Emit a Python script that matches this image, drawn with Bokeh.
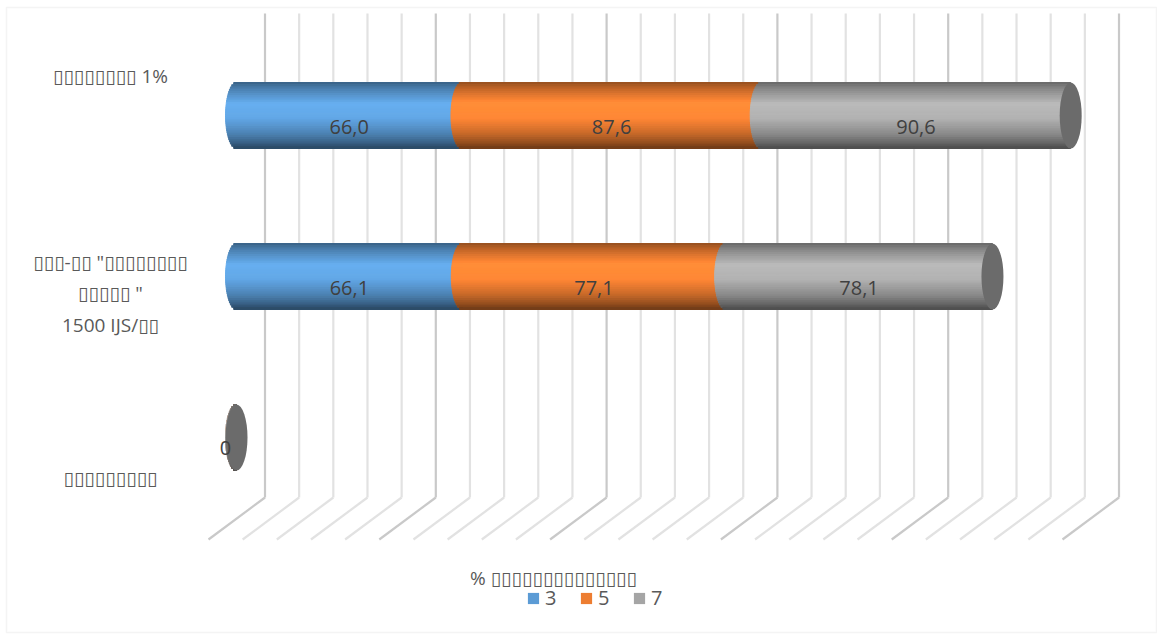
import numpy as np
from bokeh.plotting import figure
from bokeh.models import Range1d, Label, BoxAnnotation, Legend, LegendItem
from bokeh.core.properties import value
from bokeh.embed import file_html
from bokeh.resources import INLINE

# ---------------- data ----------------
categories = [
    "▯▯▯▯▯▯▯▯ 1%",
    "▯▯▯-▯▯ \"▯▯▯▯▯▯▯▯\n▯▯▯▯▯ \"\n1500 IJS/▯▯",
    "▯▯▯▯▯▯▯▯▯",
]
series_names = ["3", "5", "7"]
s3 = [66.0, 66.1, 0.0]
s5 = [87.6, 77.1, 0.0]
s7 = [90.6, 78.1, 0.0]
series_colors = ["#5b9bd5", "#ed7d31", "#a5a5a5"]
axis_title = "% ▯▯▯▯▯▯▯▯▯▯▯▯▯▯"
grid_values = list(range(0, 251, 10))

# ---------------- layout (pixels) ----------------
W, H = 1157, 634
X0 = 236.0          # canvas x of value 0 (bar axis)
PX = 3.416          # px per unit
Y0 = 115.0          # canvas y of first category
DY = 161.0          # px between categories
BAR_H = 66.0        # bar thickness, px
CAP_A = 11.0        # half width of ellipse cap, px
FONT = "Open Sans, DejaVu Sans"

p = figure(width=W, height=H, output_backend="svg", toolbar_location=None,
           x_range=Range1d(-X0 / PX, (W - X0) / PX),
           y_range=Range1d((H - Y0) / DY, -Y0 / DY),
           x_axis_location=None, y_axis_location=None,
           min_border=0, background_fill_color="white", border_fill_color="white")
p.outline_line_color = None
p.grid.visible = False

ux = 1.0 / PX   # data units per px horizontally
uy = 1.0 / DY   # data units per px vertically

# ---------------- 3D walls / gridlines ----------------
back_dx, front_dx = 28.5, -28.0
top_y, wall_bottom_y, floor_front_y = 13.0, 497.0, 539.0
gx = np.array(grid_values, dtype=float)
major = [v % 50 == 0 for v in grid_values]
gcol = ["#c9c9c9" if m else "#e2e2e2" for m in major]
ys_top = (top_y - Y0) * uy
ys_bot = (wall_bottom_y - Y0) * uy
ys_front = (floor_front_y - Y0) * uy
p.segment(x0=gx + back_dx * ux, y0=[ys_top] * len(gx), x1=gx + back_dx * ux, y1=[ys_bot] * len(gx),
          line_color=gcol, line_width=2.2)
p.segment(x0=gx + back_dx * ux, y0=[ys_bot] * len(gx), x1=gx + front_dx * ux, y1=[ys_front] * len(gx),
          line_color=gcol, line_width=2.2)

# ---------------- cylinders ----------------
def shade(hex_color, f):
    h = hex_color.lstrip("#")
    r, g, b = (int(h[i:i + 2], 16) for i in (0, 2, 4))
    r, g, b = (max(0, min(255, int(round(c * f)))) for c in (r, g, b))
    return "#%02x%02x%02x" % (r, g, b)

stops_t = [-1.0, -0.8, -0.35, 0.1, 0.55, 0.85, 1.0]
stops_f = [0.62, 0.82, 1.13, 1.08, 0.85, 0.62, 0.45]

N = 30
series = [s3, s5, s7]
ncat = len(categories)
bar_h = BAR_H * uy
for ci in range(ncat):
    left = 0.0
    for si, vals in enumerate(series):
        v = vals[ci]
        right = left + v
        ts = (np.arange(N) + 0.5) / N * 2 - 1
        ys = ci + ts * bar_h / 2
        lefts = left - CAP_A * ux * np.sqrt(np.clip(1 - ts ** 2, 0, 1))
        cols = [shade(series_colors[si], float(np.interp(t, stops_t, stops_f))) for t in ts]
        p.hbar(y=ys, left=lefts, right=[right] * N, height=bar_h / N,
               fill_color=cols, line_color=cols, line_width=1.0)
        left = right
    # end cap
    p.ellipse(x=[left], y=[ci], width=2 * CAP_A * ux, height=bar_h,
              fill_color="#6b6b6b", line_color=None)

# ---------------- data labels ----------------
lx, ly, lt = [], [], []
for ci in range(ncat):
    left = 0.0
    total = sum(vals[ci] for vals in series)
    if total == 0:
        lx.append(-11 * ux); ly.append(ci + 10 * uy); lt.append("0")
        continue
    for vals in series:
        v = vals[ci]
        lx.append(left + v / 2); ly.append(ci + 11 * uy)
        lt.append(("%.1f" % v).replace(".", ","))
        left += v
p.text(x=lx, y=ly, text=lt, text_align="center", text_baseline="middle",
       text_font=value(FONT), text_font_size="20px", text_color="#404040")

# ---------------- category labels ----------------
cat_dy = [-40, 17, 40]
p.text(x=[-126 * ux] * ncat, y=[ci + cat_dy[ci] * uy for ci in range(ncat)], text=categories,
       text_align="center", text_baseline="middle", text_line_height=1.2,
       text_font=value(FONT), text_font_size="19px", text_color="#595959")

# ---------------- axis title ----------------
p.add_layout(Label(x=553, y=H - 577, x_units="screen", y_units="screen", text=axis_title,
                   text_align="center", text_baseline="middle",
                   text_font=FONT, text_font_size="19px", text_color="#595959"))

# ---------------- legend ----------------
items = []
for name, col in zip(series_names, series_colors):
    r = p.quad(left=[-1000], right=[-999], bottom=[0], top=[1], fill_color=col, line_color=None)
    items.append(LegendItem(label=name, renderers=[r]))
legend = Legend(items=items, orientation="horizontal", location=(526, H - 611),
                label_text_font=FONT, label_text_font_size="20px", label_text_color="#595959",
                glyph_width=14, glyph_height=14, label_standoff=5, spacing=14,
                padding=0, margin=0, border_line_color=None, background_fill_alpha=0)
p.add_layout(legend, "center")

# ---------------- chart border ----------------
p.add_layout(BoxAnnotation(left=6, right=W - 1, bottom=2, top=H - 7,
                           left_units="screen", right_units="screen",
                           bottom_units="screen", top_units="screen",
                           fill_color=None, line_color="#d9d9d9", line_width=1.5))

open("out.html", "w").write(file_html(p, INLINE))
